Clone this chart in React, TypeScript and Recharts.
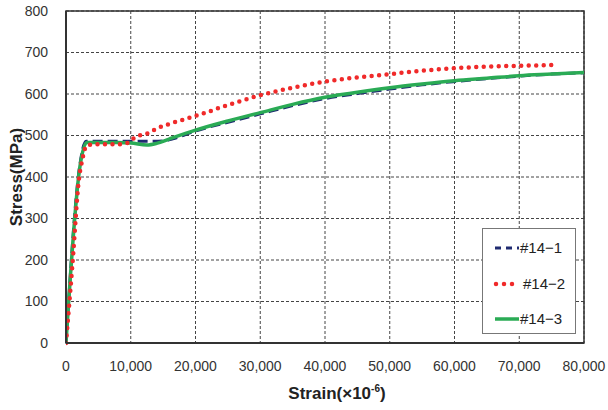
import React from "react";
import {
  LineChart,
  Line,
  XAxis,
  YAxis,
  CartesianGrid,
  ReferenceArea,
  Label,
} from "recharts";

const xTicks = [0, 10000, 20000, 30000, 40000, 50000, 60000, 70000, 80000];
const yTicks = [0, 100, 200, 300, 400, 500, 600, 700, 800];

const s1Strain = [0, 2100, 3100, 5000, 8000, 11000, 13500, 15000, 16500, 20000, 25000, 30000, 35000, 40000, 45000, 50000, 55000, 60000, 65000, 70000, 75000, 80000];
const s1Stress = [0, 425, 486, 486, 486, 486, 486, 487, 492, 511, 532, 552, 572, 589, 601, 612, 622, 630, 637, 643, 648, 651];

const s2Strain = [0, 1000, 2000, 2500, 3200, 5000, 8000, 9500, 10600, 12900, 13900, 16200, 18500, 20800, 24900, 27400, 30000, 35000, 40000, 45000, 50000, 55000, 60000, 65000, 70000, 76000];
const s2Stress = [0, 190, 395, 440, 476, 479, 479, 482, 495, 507, 516, 529, 540, 551, 573, 585, 597, 615, 630, 640, 648, 656, 662, 666, 668, 670];

const s3Strain = [0, 2150, 3200, 5000, 8000, 10000, 12500, 14000, 16000, 20000, 25000, 30000, 35000, 40000, 45000, 50000, 55000, 60000, 65000, 70000, 75000, 80000];
const s3Stress = [0, 425, 483, 483, 483, 482, 477, 481, 492, 513, 535, 555, 575, 592, 604, 615, 624, 632, 638, 644, 648, 652];

const names = ["#14\u22121", "#14\u22122", "#14\u22123"];

const toData = (xs: number[], ys: number[]) => xs.map((x, i) => ({ x, y: ys[i] }));

const fmt = (v: number) => v.toLocaleString("en-US");

const FONT = "'Liberation Sans', Arial, sans-serif";

export default function App() {
  return (
    <div style={{ position: "absolute", left: 0, top: 0, width: 608, height: 410, background: "#fff" }}>
      <LineChart
        width={608}
        height={410}
        margin={{ top: 11, right: 24, bottom: 37, left: 20 }}
        style={{ fontFamily: FONT }}
      >
        <CartesianGrid stroke="#444" strokeDasharray="3 2" strokeWidth={1} />
        <XAxis
          type="number"
          dataKey="x"
          domain={[0, 80000]}
          ticks={xTicks}
          tickFormatter={fmt}
          height={30}
          tick={{ fill: "#333", fontSize: 14, fontFamily: FONT }}
          tickLine={false}
          axisLine={{ stroke: "#333", strokeWidth: 2 }}
          tickMargin={12}
          allowDataOverflow
        >
          <Label
            position="bottom"
            content={(props: any) => {
              const vb = props.viewBox;
              const cx = vb.x + vb.width / 2 + 12;
              return (
                <text x={cx} y={399} textAnchor="middle" fontFamily={FONT} fontWeight="bold" fontSize={17} fill="#222">
                  Strain(×10<tspan dy={-7} fontSize={10}>-6</tspan>
                  <tspan dy={7}>)</tspan>
                </text>
              );
            }}
          />
        </XAxis>
        <YAxis
          type="number"
          domain={[0, 800]}
          ticks={yTicks}
          width={46}
          tick={{ fill: "#333", fontSize: 14, fontFamily: FONT }}
          tickLine={false}
          axisLine={{ stroke: "#333", strokeWidth: 2 }}
          tickMargin={12}
        >
          <Label
            content={() => (
              <text
                x={16}
                y={177}
                transform="rotate(-90 16 177)"
                textAnchor="middle"
                dominantBaseline="central"
                fontFamily={FONT}
                fontWeight="bold"
                fontSize={17}
                fill="#222"
              >
                Stress(MPa)
              </text>
            )}
          />
        </YAxis>
        <ReferenceArea x1={0} x2={80000} y1={0} y2={800} fill="none" fillOpacity={0} stroke="#333" strokeWidth={1.5} />
        <Line
          data={toData(s1Strain, s1Stress)}
          dataKey="y"
          name={names[0]}
          stroke="#1f2b70"
          strokeWidth={3}
          strokeDasharray="10 5"
          dot={false}
          isAnimationActive={false}
          type="monotone"
        />
        <Line
          data={toData(s3Strain, s3Stress)}
          dataKey="y"
          name={names[2]}
          stroke="#2aab55"
          strokeWidth={3.5}
          dot={false}
          isAnimationActive={false}
          type="monotone"
        />
        <Line
          data={toData(s2Strain, s2Stress)}
          dataKey="y"
          name={names[1]}
          stroke="#f02a2a"
          strokeWidth={4.5}
          strokeDasharray="0 7.5"
          strokeLinecap="round"
          dot={false}
          isAnimationActive={false}
          type="monotone"
        />
      </LineChart>
      <div
        style={{
          position: "absolute",
          left: 482,
          top: 228,
          width: 94,
          height: 106,
          border: "1.5px solid #777",
          background: "#fff",
          boxSizing: "border-box",
          fontFamily: FONT,
          fontSize: 15,
          color: "#222",
        }}
      >
        <svg width={94} height={106} style={{ position: "absolute", left: 0, top: 0 }}>
          <line x1={12} x2={36} y1={19} y2={19} stroke="#1f2b70" strokeWidth={3} strokeDasharray="6 5" />
          <line x1={13} x2={36} y1={55} y2={55} stroke="#f02a2a" strokeWidth={4.5} strokeDasharray="0 8" strokeLinecap="round" />
          <line x1={12} x2={36} y1={90} y2={90} stroke="#2aab55" strokeWidth={3.5} />
          <text x={37} y={24} fontFamily={FONT} fontSize={15} fill="#222">{names[0]}</text>
          <text x={40} y={60} fontFamily={FONT} fontSize={15} fill="#222">{names[1]}</text>
          <text x={37} y={95} fontFamily={FONT} fontSize={15} fill="#222">{names[2]}</text>
        </svg>
      </div>
    </div>
  );
}
